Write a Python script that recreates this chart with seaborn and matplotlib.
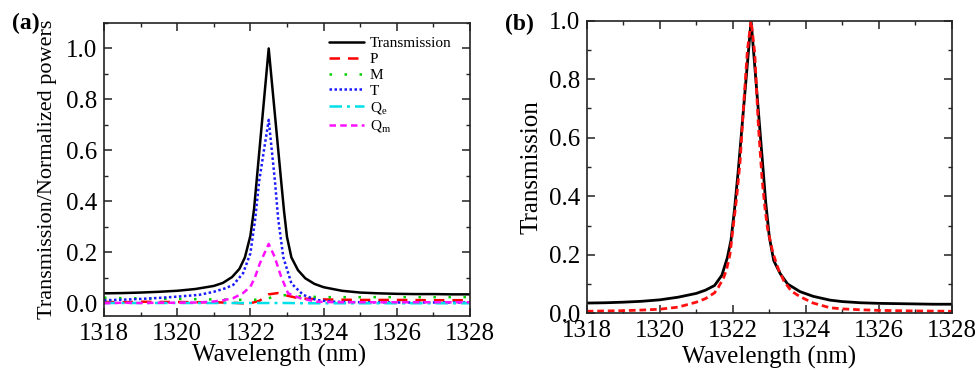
import numpy as np
import pandas as pd
import matplotlib
matplotlib.use("Agg")
import matplotlib.pyplot as plt
from matplotlib.ticker import MultipleLocator
import seaborn as sns

# ---------------- data ----------------
# panel (a)
wl_trans_a = [1318.0, 1318.5, 1319.0, 1319.5, 1320.0, 1320.5, 1321.0, 1321.25, 1321.5,
              1321.7, 1321.85, 1322.0, 1322.1, 1322.17, 1322.5, 1322.84, 1322.92, 1323.0,
              1323.12, 1323.3, 1323.5, 1323.75, 1324.0, 1324.5, 1325.0, 1325.5, 1326.0,
              1326.5, 1327.0, 1327.5, 1328.0]
transmission_a = [0.039, 0.040, 0.042, 0.045, 0.049, 0.056, 0.068, 0.080, 0.103,
                  0.135, 0.180, 0.265, 0.370, 0.480, 1.000, 0.480, 0.360, 0.260,
                  0.180, 0.130, 0.098, 0.076, 0.063, 0.049, 0.042, 0.039, 0.037,
                  0.036, 0.036, 0.035, 0.035]

wl_t = [1318.0, 1318.5, 1319.0, 1319.5, 1320.0, 1320.6, 1321.0, 1321.3, 1321.53,
        1321.8, 1322.0, 1322.13, 1322.24, 1322.5, 1322.67, 1322.76, 1322.9, 1323.12,
        1323.44, 1323.8, 1324.25, 1325.0, 1326.0, 1327.0, 1328.0]
t_vals = [0.012, 0.014, 0.017, 0.021, 0.026, 0.033, 0.045, 0.058, 0.072,
          0.118, 0.196, 0.330, 0.480, 0.720, 0.480, 0.330, 0.180, 0.078,
          0.033, 0.013, 0.006, 0.004, 0.003, 0.003, 0.003]

wl_qm = [1318.0, 1318.5, 1319.0, 1319.5, 1320.0, 1320.6, 1321.0, 1321.3, 1321.53,
         1321.8, 1322.0, 1322.12, 1322.26, 1322.5, 1322.66, 1322.84, 1323.03, 1323.36,
         1323.8, 1324.3, 1325.0, 1326.0, 1327.0, 1328.0]
qm_vals = [0.000, 0.002, 0.001, 0.002, 0.002, 0.003, 0.007, 0.013, 0.020,
           0.040, 0.065, 0.100, 0.157, 0.233, 0.183, 0.104, 0.039, 0.020,
           0.006, 0.004, 0.004, 0.004, 0.004, 0.004]

wl_p = [1318.0, 1318.5, 1319.0, 1319.5, 1320.0, 1320.5, 1321.0, 1321.5, 1321.75,
        1322.0, 1322.25, 1322.5, 1322.75, 1323.0, 1323.25, 1323.5, 1324.0, 1324.5,
        1325.0, 1326.0, 1327.0, 1328.0]
p_vals = [0.005, 0.004, 0.006, 0.005, 0.005, 0.004, 0.004, 0.002, 0.000,
          0.000, 0.010, 0.035, 0.040, 0.030, 0.022, 0.018, 0.015, 0.014,
          0.013, 0.013, 0.012, 0.012]

wl_m = [1318.0, 1318.5, 1319.0, 1319.5, 1320.0, 1320.5, 1321.0, 1321.5, 1322.0,
        1322.25, 1322.5, 1322.75, 1323.0, 1323.25, 1323.5, 1324.0, 1325.0, 1326.0,
        1327.0, 1328.0]
m_vals = [0.022, 0.020, 0.019, 0.018, 0.017, 0.016, 0.015, 0.014, 0.013,
          0.015, 0.020, 0.030, 0.032, 0.028, 0.026, 0.024, 0.024, 0.024,
          0.024, 0.024]

wl_qe = [1318.0, 1320.0, 1322.0, 1322.5, 1323.0, 1323.5, 1324.0, 1326.0, 1328.0]
qe_vals = [0.001, 0.001, 0.001, 0.001, 0.001, 0.000, 0.000, 0.000, 0.000]

# panel (b)
wl_trans_b = [1318.0, 1318.5, 1319.0, 1319.5, 1320.0, 1320.5, 1321.0, 1321.25, 1321.5,
              1321.7, 1321.85, 1321.95, 1322.05, 1322.15, 1322.5, 1322.83, 1322.9, 1323.0,
              1323.12, 1323.3, 1323.5, 1323.84, 1324.2, 1324.66, 1325.0, 1325.5, 1326.0,
              1326.5, 1327.0, 1327.5, 1328.0]
transmission_b = [0.035, 0.036, 0.038, 0.041, 0.046, 0.055, 0.068, 0.079, 0.095,
                  0.130, 0.190, 0.250, 0.360, 0.490, 1.000, 0.490, 0.380, 0.260,
                  0.180, 0.135, 0.100, 0.074, 0.058, 0.045, 0.040, 0.036, 0.034,
                  0.033, 0.032, 0.031, 0.031]
wl_fit = [1318.0, 1318.5, 1319.0, 1319.5, 1320.0, 1320.5, 1321.0, 1321.25, 1321.5,
          1321.6, 1321.75, 1321.83, 1321.92, 1322.0, 1322.1, 1322.2, 1322.3, 1322.4,
          1322.5, 1322.6, 1322.7, 1322.8, 1322.88, 1322.95, 1323.1, 1323.25, 1323.4,
          1323.6, 1323.84, 1324.2, 1324.66, 1325.0, 1325.5, 1326.0, 1327.0, 1328.0]
fit_b = [0.007, 0.008, 0.009, 0.011, 0.014, 0.021, 0.038, 0.050, 0.070,
         0.088, 0.122, 0.150, 0.200, 0.285, 0.390, 0.520, 0.720, 0.900,
         1.000, 0.890, 0.640, 0.460, 0.360, 0.290, 0.205, 0.150, 0.110,
         0.076, 0.057, 0.035, 0.019, 0.015, 0.012, 0.010, 0.008, 0.007]

x_ticks = [1318, 1320, 1322, 1324, 1326, 1328]
y_ticks = [0.0, 0.2, 0.4, 0.6, 0.8, 1.0]

# ---------------- style ----------------
sns.set_theme(style="ticks")
plt.rcParams.update({
    "font.family": ["Liberation Serif", "DejaVu Serif"],
    "mathtext.fontset": "custom",
    "mathtext.rm": "Liberation Serif",
    "mathtext.it": "Liberation Serif:italic",
    "xtick.direction": "in",
    "ytick.direction": "in",
    "xtick.top": True,
    "ytick.right": True,
    "axes.linewidth": 1.2,
    "axes.edgecolor": "#222222",
    "xtick.color": "#222222",
    "ytick.color": "#222222",
    "text.color": "black",
    "axes.labelcolor": "black",
    "xtick.labelcolor": "black",
    "ytick.labelcolor": "black",
})

fig = plt.figure(figsize=(9.78, 3.70), dpi=100)
ax1 = fig.add_axes([104 / 978, 1 - 316 / 370, 366 / 978, 293 / 370])
ax2 = fig.add_axes([586.7 / 978, 1 - 313.3 / 370, 365.3 / 978, 292.6 / 370])

series = [
    (wl_trans_a, transmission_a, "Transmission", "black", "-"),
    (wl_p, p_vals, "P", "#ff0000", (0, (4.2, 3.2))),
    (wl_m, m_vals, "M", "#00d000", (0, (1.0, 5.0))),
    (wl_t, t_vals, "T", "#1a1aff", (0, (1.0, 1.0))),
    (wl_qe, qe_vals, r"Q$_{\rm e}$", "#00e0e8", (0, (5.0, 2.0, 1.2, 2.0))),
    (wl_qm, qm_vals, r"Q$_{\rm m}$", "#ff10ff", (0, (2.6, 1.7))),
]
for xs, ys, lab, colr, ls in series:
    sns.lineplot(x=xs, y=ys, ax=ax1, color=colr, linestyle=ls,
                 linewidth=1.8, label=lab)

ax1.set_xlim(1318, 1328)
ax1.set_ylim(-0.05, 1.1)
ax1.set_xticks(x_ticks)
ax1.set_yticks(y_ticks)
ax1.set_yticklabels([f"{v:.1f}" for v in y_ticks])
ax1.xaxis.set_minor_locator(MultipleLocator(1))
ax1.yaxis.set_minor_locator(MultipleLocator(0.1))
ax1.set_xlabel("Wavelength (nm)", fontsize=18)
ax1.set_ylabel("Transmission/Normalized powers", fontsize=16)
ax1.xaxis.set_label_coords(0.477, -0.095)
ax1.yaxis.set_label_coords(-0.128, 0.5)

ax1.legend(loc="upper left", bbox_to_anchor=(0.615, 0.955), frameon=False,
           fontsize=11, handlelength=2.3, handletextpad=0.35,
           labelspacing=0.15, borderpad=0, borderaxespad=0)

# panel b
sns.lineplot(x=wl_trans_b, y=transmission_b, ax=ax2, color="black", linewidth=2.0)
sns.lineplot(x=wl_fit, y=fit_b, ax=ax2, color="#ff1010", linewidth=2.0,
             linestyle=(0, (2.4, 1.4)))
ax2.set_xlim(1318, 1328)
ax2.set_ylim(0.0, 1.0)
ax2.set_xticks(x_ticks)
ax2.set_yticks(y_ticks)
ax2.set_yticklabels([f"{v:.1f}" for v in y_ticks])
ax2.xaxis.set_minor_locator(MultipleLocator(1))
ax2.yaxis.set_minor_locator(MultipleLocator(0.1))
ax2.set_xlabel("Wavelength (nm)", fontsize=18)
ax2.set_ylabel("Transmission", fontsize=18)
ax2.xaxis.set_label_coords(0.5, -0.11)
ax2.yaxis.set_label_coords(-0.122, 0.5)

for ax in (ax1, ax2):
    ax.tick_params(which="major", length=6, width=1.1, labelsize=18, pad=5,
                   top=True, right=True)
    ax.tick_params(which="minor", length=3, width=1.0, top=True, right=True)
    for s in ax.spines.values():
        s.set_visible(True)

fig.text(12 / 978, 1 - 29 / 370, "(a)", fontsize=17, fontweight="bold",
         ha="left", va="baseline")
fig.text(505 / 978, 1 - 30 / 370, "(b)", fontsize=17, fontweight="bold",
         ha="left", va="baseline")

fig.savefig("out.png", dpi=100)
